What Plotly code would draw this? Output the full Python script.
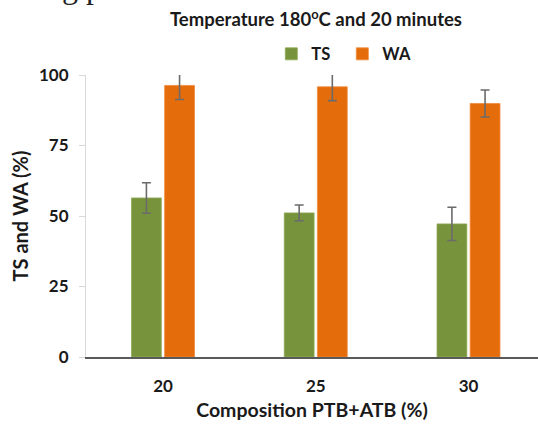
import plotly.graph_objects as go

categories = ["20", "25", "30"]
ts_values = [56.4, 51.1, 47.2]
ts_errors = [5.4, 2.8, 5.9]
wa_values = [96.3, 95.8, 89.9]
wa_errors = [5.0, 4.9, 4.8]
y_ticks = [0, 25, 50, 75, 100]

FONT = "Lato"
err_style = dict(type="data", visible=True, color="#6b6b6b", thickness=1.6, width=4.5)

fig = go.Figure()
fig.add_trace(go.Bar(
    name="TS", x=categories, y=ts_values,
    error_y=dict(array=ts_errors, **err_style),
    marker=dict(color="#77933C", line=dict(color="#8fab55", width=0.8)),
))
fig.add_trace(go.Bar(
    name="WA", x=categories, y=wa_values,
    error_y=dict(array=wa_errors, **err_style),
    marker=dict(color="#E46C0A", line=dict(color="#f08a3a", width=0.8)),
))

fig.update_layout(
    width=538, height=428,
    margin=dict(l=86, r=0, t=75, b=70.5, pad=0),
    paper_bgcolor="white", plot_bgcolor="white",
    font=dict(family=FONT, size=14, color="#1a1a1a", weight="bold"),
    barmode="group", bargap=0.566, bargroupgap=0.1,
    title=dict(text="Temperature 180<sup>o</sup>C and 20 minutes",
               x=316 / 538, xanchor="center", y=1 - 20 / 428, yanchor="middle",
               font=dict(family=FONT, size=18.5, weight="bold", color="#1a1a1a")),
    legend=dict(orientation="h", x=0.41, xanchor="left", y=1.074, yanchor="middle",
                font=dict(family=FONT, size=16.5, weight="bold"),
                bgcolor="rgba(0,0,0,0)", entrywidth=26, itemwidth=30),
    showlegend=True,
)
fig.update_xaxes(
    type="category", range=[-0.504, 2.455],
    showline=True, linecolor="#595959", linewidth=1.5,
    ticks="", showgrid=False, zeroline=False,
    ticklabelstandoff=13,
    tickfont=dict(family=FONT, size=17, weight="bold"),
    title=dict(text="Composition PTB+ATB (%)", standoff=8,
               font=dict(family=FONT, size=19.5, weight="bold")),
)
fig.update_yaxes(
    range=[0, 100], tickvals=y_ticks,
    showline=True, linecolor="#d9d9d9", linewidth=1,
    ticks="outside", ticklen=6, tickcolor="#d9d9d9", tickwidth=1,
    showgrid=False, zeroline=False,
    ticklabelstandoff=7,
    tickfont=dict(family=FONT, size=17, weight="bold"),
    title=dict(text="TS and WA (%)", standoff=5,
               font=dict(family=FONT, size=20, weight="bold")),
)
fig.add_annotation(
    text="g p", xref="paper", yref="paper", x=(60 - 86) / 452, xanchor="left",
    y=(357.5 - 7) / 282.5, yanchor="bottom", showarrow=False,
    font=dict(family="Liberation Serif", size=32, color="#222222", weight="normal"),
)
fig.write_html("out.html")
